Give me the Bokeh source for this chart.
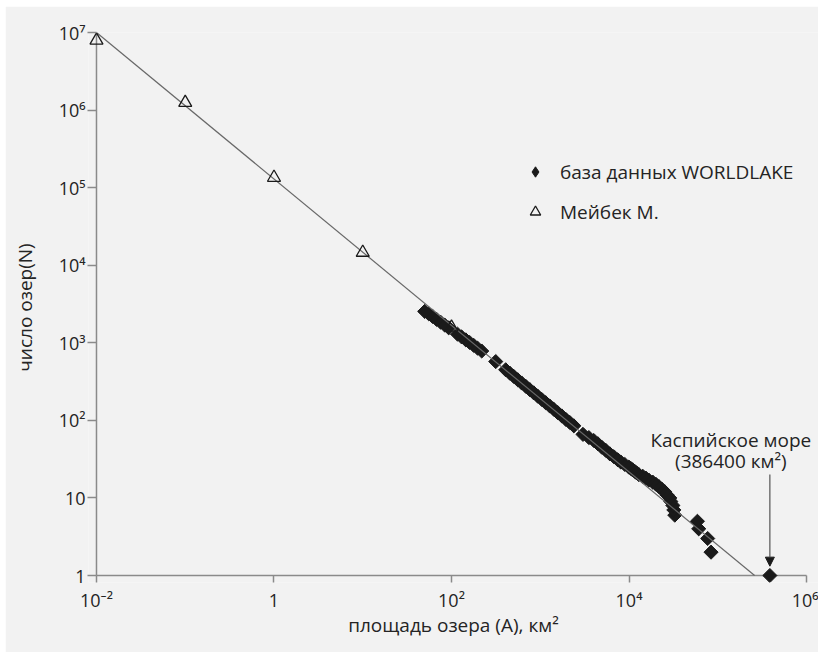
import numpy as np
from bokeh.plotting import figure
from bokeh.models import (Range1d, FixedTicker, Legend, LegendItem, Label,
                          Arrow, NormalHead)
from bokeh.embed import file_html
from bokeh.resources import INLINE

# WORLDLAKE database: lake area (km²) and number of lakes at least that large
worldlake_area = [386400, 84000, 77000, 61000, 59000,
                  32800, 32000, 31200, 29600, 28800,
                  26700, 25300, 23400, 21700, 20100,
                  18500, 16700, 15500, 14300, 12900,
                  12200, 11600, 11000, 10500, 9950,
                  8970, 8090, 7480, 6750, 6080, 5480, 4940, 4450, 4010,
                  3530, 3030,
                  2390, 2150, 1940, 1750, 1570, 1420, 1280, 1150, 1040,
                  937, 845, 762, 686, 618, 557, 502, 453, 408,
                  315,
                  219, 197, 178, 160, 145, 130, 117,
                  93, 84, 75.5, 68, 61.4, 55.3, 49.9]
worldlake_count = [1, 2, 3, 4, 5,
                   6, 7, 8, 9, 10,
                   11, 12, 13, 14, 15,
                   16, 17, 18, 19, 20,
                   21, 22, 23, 24, 25,
                   27, 29, 31, 34, 37, 41, 45, 50, 55,
                   60, 66,
                   85, 94, 103, 114, 126, 139, 153, 169, 186,
                   205, 226, 249, 275, 303, 334, 369, 407, 449,
                   573,
                   783, 851, 925, 1010, 1090, 1190, 1290,
                   1560, 1690, 1840, 2000, 2180, 2370, 2540]

# Meybeck estimates
meybeck_area = [0.01, 0.1, 1, 10, 100]
meybeck_count = [7.9e6, 1.25e6, 1.35e5, 1.46e4, 1.58e3]

# power-law fit drawn across the whole range
fit_area = [0.01, 2.6e5]
fit_count = [1e7, 1]

caspian_area = 386400
caspian_count = 1

x_ticks = [0.01, 1, 100, 1e4, 1e6]
x_tick_labels = ["10⁻²", "1", "10²", "10⁴", "10⁶"]
y_ticks = [1, 10, 100, 1e3, 1e4, 1e5, 1e6, 1e7]
y_tick_labels = ["1", "10", "10²", "10³", "10⁴", "10⁵", "10⁶", "10⁷"]

BG = "#f2f2f2"
INK = "#1a1a1a"
TXT = "#242424"
AXIS = "#8a8a8a"
FONT = "'Open Sans', 'Noto Sans', sans-serif"

# The frame reaches a few pixels past 10^-2 and 1 so that markers sitting on
# the axes are drawn whole; the axis lines are drawn at 10^-2 and 1 and the
# ticks reach inwards up to them.
p = figure(width=813, height=646,
           x_axis_type="log", y_axis_type="log",
           x_range=Range1d(10 ** -2.09, 10 ** 6.135),
           y_range=Range1d(10 ** -0.09, 1e7),
           output_backend="svg", toolbar_location=None,
           min_border_left=83, min_border_right=0,
           min_border_top=26, min_border_bottom=70,
           background_fill_color=BG, border_fill_color=BG,
           outline_line_color=None)
p.margin = (6, 0, 0, 5)
p.grid.visible = False

for ax in (p.xaxis[0], p.yaxis[0]):
    ax.axis_line_color = None
    ax.major_tick_line_color = AXIS
    ax.major_tick_line_width = 1.5
    ax.minor_tick_line_color = None
    ax.major_label_text_font = FONT
    ax.major_label_text_font_size = "18px"
    ax.major_label_text_color = TXT
    ax.axis_label_text_font = FONT
    ax.axis_label_text_font_size = "19px"
    ax.axis_label_text_font_style = "normal"
    ax.axis_label_text_color = TXT

p.xaxis.ticker = FixedTicker(ticks=x_ticks)
p.xaxis.major_label_overrides = dict(zip(x_ticks, x_tick_labels))
p.xaxis.major_tick_in = 7
p.xaxis.major_tick_out = 0
p.xaxis.major_label_standoff = 5
p.xaxis.axis_label = "площадь озера (A), км²"
p.xaxis.axis_label_standoff = -3

p.yaxis.ticker = FixedTicker(ticks=y_ticks)
p.yaxis.major_label_overrides = dict(zip(y_ticks, y_tick_labels))
p.yaxis.major_tick_in = 8
p.yaxis.major_tick_out = 1
p.yaxis.major_label_standoff = 2
p.yaxis.axis_label = "число озер(N)"
p.yaxis.axis_label_standoff = 18

# axis lines at 10^-2 (vertical) and 1 (horizontal)
p.segment(x0=[x_ticks[0], x_ticks[0]], y0=[y_ticks[0], y_ticks[0]],
          x1=[x_ticks[0], x_ticks[-1]], y1=[y_ticks[-1], y_ticks[0]],
          line_color=AXIS, line_width=1.5)

# WORLDLAKE points: upright diamond keyed in the legend, covered by the
# larger rotated squares that form the visible marks
r_wl_key = p.scatter(worldlake_area, worldlake_count, marker="diamond",
                     size=8, fill_color=INK, line_color=INK)
p.scatter(worldlake_area, worldlake_count, marker="square",
          angle=np.pi / 4, size=10, fill_color=INK, line_color=INK)
p.line(fit_area, fit_count, line_color="#686868", line_width=1.2)
r_mb = p.scatter(meybeck_area, meybeck_count, marker="triangle", size=13,
                 fill_color=None, line_color=INK, line_width=1.3)

legend = Legend(items=[LegendItem(label="база данных WORLDLAKE", renderers=[r_wl_key]),
                       LegendItem(label="Мейбек М.", renderers=[r_mb])],
                location=(434, 357), orientation="vertical",
                padding=0, margin=0, spacing=13,
                glyph_width=26, glyph_height=27, label_height=26,
                label_standoff=12,
                label_text_font=FONT, label_text_font_size="19px",
                label_text_color=TXT,
                border_line_color=None, background_fill_alpha=0)
p.add_layout(legend)

# Caspian Sea annotation
for txt, dy in (("Каспийское море", 136), ("(386400 км²)", 115)):
    p.add_layout(Label(x=caspian_area, y=caspian_count, x_offset=-39, y_offset=dy,
                       text=txt, text_align="center", text_baseline="middle",
                       text_font=FONT, text_font_size="19px", text_color=TXT))
p.add_layout(Arrow(end=NormalHead(size=9, fill_color=INK, line_color=INK),
                   x_start=caspian_area, y_start=caspian_count * 20,
                   x_end=caspian_area, y_end=caspian_count * 1.32,
                   line_color="#555555", line_width=1.2))

open("out.html", "w").write(file_html(p, INLINE))
